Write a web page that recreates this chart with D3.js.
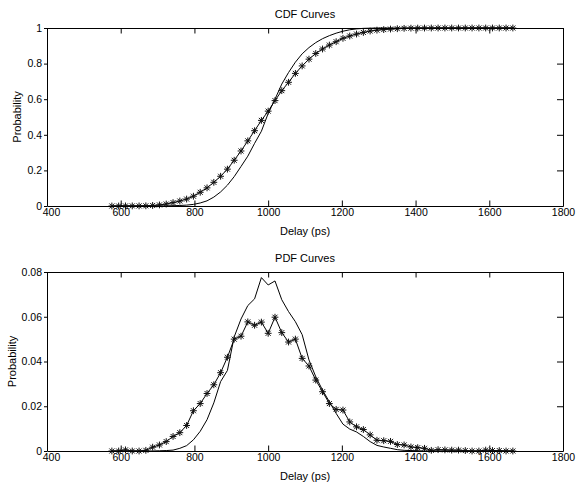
<!DOCTYPE html>
<html>
<head>
<meta charset="utf-8">
<script src="https://cdn.jsdelivr.net/npm/d3@7"></script>
<style>
body{margin:0;background:#fff}
svg{display:block}
text{font-family:"Liberation Sans",Arial,Helvetica,sans-serif;fill:#000}
</style>
</head>
<body>
<svg width="576" height="483"></svg>
<script>
// bin centres (ps)
const delay = [576.0,594.4,612.9,631.3,649.8,668.2,686.6,705.1,723.5,742.0,
  760.4,778.8,797.3,815.7,834.2,852.6,871.0,889.5,907.9,926.4,
  944.8,963.2,981.7,1000.1,1018.6,1037.0,1055.4,1073.9,1092.3,1110.8,
  1129.2,1147.6,1166.1,1184.5,1203.0,1221.4,1239.8,1258.3,1276.7,1295.2,
  1313.6,1332.0,1350.5,1368.9,1387.4,1405.8,1424.2,1442.7,1461.1,1479.6,
  1498.0,1516.4,1534.9,1553.3,1571.8,1590.2,1608.6,1627.1,1645.5,1664.0]

const cdfStar = [0,0,0.0005,0.0005,0.0005,0.001,0.003,0.006,0.011,0.019,
  0.028,0.039,0.055,0.077,0.102,0.133,0.167,0.207,0.257,0.309,
  0.366,0.423,0.481,0.533,0.592,0.648,0.695,0.745,0.787,0.825,
  0.857,0.882,0.904,0.923,0.942,0.955,0.966,0.975,0.983,0.988,
  0.991,0.994,0.996,0.998,0.999,0.9995,0.9997,0.9998,0.9999,1,
  1,1,1,1,1,1,1,1,1,1]

const cdfLine = [0,0,0,0,0,0,0,0.0003,0.0008,0.0015,
  0.003,0.005,0.009,0.017,0.029,0.05,0.079,0.117,0.165,0.222,
  0.28,0.352,0.42,0.52,0.60,0.685,0.75,0.808,0.855,0.89,
  0.918,0.94,0.957,0.971,0.982,0.99,0.995,0.998,0.999,1,
  1,1,1,1,1,1,1,1,1,1,
  1,1,1,1,1,1,1,1,1,1]

const pdfStar = [0,0,0.0005,0,0,0.0003,0.0017,0.0027,0.0042,0.0065,
  0.0082,0.0114,0.018,0.0212,0.0257,0.0296,0.035,0.0419,0.050,0.0513,
  0.0577,0.0562,0.0576,0.0526,0.0598,0.0529,0.0487,0.050,0.0414,0.038,
  0.0317,0.0265,0.0212,0.0186,0.0183,0.013,0.0108,0.0096,0.0072,0.0048,
  0.0046,0.0043,0.0029,0.0027,0.0018,0.0015,0.0012,0.0003,0.0006,0.0005,
  0.0004,0.0004,0.0002,0,0,0.0004,0.0002,0.0002,0,0]

const pdfLine = [0,0,0,0,0,0,0,0.0001,0.0002,0.0004,
  0.0012,0.0024,0.005,0.0088,0.014,0.0215,0.031,0.036,0.051,0.059,
  0.065,0.068,0.0775,0.0742,0.076,0.0676,0.0623,0.0578,0.052,0.0407,
  0.0332,0.0272,0.022,0.0168,0.012,0.0098,0.0085,0.0065,0.0042,0.0025,
  0.0018,0.0012,0.0006,0.0003,0.0002,0.0001,0,0,0,0,
  0,0,0,0,0,0,0,0,0,0]

const xTicks = [400,600,800,1000,1200,1400,1600,1800]
const cdfTicks = [0,0.2,0.4,0.6,0.8,1]
const pdfTicks = [0,0.02,0.04,0.06,0.08]

const svg = d3.select("svg")
const left = 47, right = 563
const xScale = d3.scaleLinear().domain([400,1800]).range([left,right])

// asterisk marker: plus + cross
const r = 3.4, d = 2.5
const star = "M" + (-r) + ",0H" + r + "M0," + (-r) + "V" + r +
  "M" + (-d) + "," + (-d) + "L" + d + "," + d + "M" + (-d) + "," + d + "L" + d + "," + (-d)

function drawPanel(top, bottom, yMax, yTicks, lineVals, starVals, title, ylabX){
  const yScale = d3.scaleLinear().domain([0,yMax]).range([bottom,top])
  const g = svg.append("g")

  const line = d3.line().x((v,i) => xScale(delay[i])).y(v => yScale(v))

  g.append("path")
  .attr("d", line(lineVals))
  .attr("fill","none").attr("stroke","#000").attr("stroke-width",1)

  g.append("path")
  .attr("d", line(starVals))
  .attr("fill","none").attr("stroke","#000").attr("stroke-width",1)

  g.selectAll(".star")
  .data(starVals)
  .join("path")
  .attr("class","star")
  .attr("transform",(v,i) => "translate(" + xScale(delay[i]) + "," + yScale(v) + ")")
  .attr("d", star)
  .attr("fill","none").attr("stroke","#111").attr("stroke-width",1)

  const axes = []
  const xb = g.append("g").attr("transform","translate(0," + bottom + ")")
  .call(d3.axisBottom(xScale).tickValues(xTicks).tickSizeInner(-5.5).tickSizeOuter(0)
    .tickPadding(3).tickFormat(d3.format("d")))
  // first label sits a little right of its tick
  xb.selectAll(".tick text").filter(v => v === 400).attr("dx", 4)
  axes.push(xb)
  axes.push(g.append("g").attr("transform","translate(0," + top + ")")
  .call(d3.axisTop(xScale).tickValues(xTicks).tickSizeInner(-5.5).tickSizeOuter(0).tickFormat("")))
  axes.push(g.append("g").attr("transform","translate(" + left + ",0)")
  .call(d3.axisLeft(yScale).tickValues(yTicks).tickSizeInner(3).tickSizeOuter(0).tickPadding(2).tickFormat(v => v)))
  axes.push(g.append("g").attr("transform","translate(" + right + ",0)")
  .call(d3.axisRight(yScale).tickValues(yTicks).tickSizeInner(-6).tickSizeOuter(0).tickFormat("")))

  axes.forEach(a => {
    a.attr("font-family",null).attr("font-size",null)
    a.selectAll("text").style("font-size","10.5px")
    a.selectAll("path,line").attr("stroke","#000")
  })

  const mid = (left + right) / 2
  g.append("text").attr("x",mid).attr("y",top - 10)
  .attr("text-anchor","middle").style("font-size","11px").text(title)

  g.append("text").attr("x",mid).attr("y",bottom + 28.5)
  .attr("text-anchor","middle").style("font-size","11px").text("Delay (ps)")

  g.append("text")
  .attr("transform","translate(" + ylabX + "," + ((top + bottom) / 2) + ") rotate(-90)")
  .attr("text-anchor","middle").style("font-size","11px").text("Probability")
}

drawPanel(28, 206, 1, cdfTicks, cdfLine, cdfStar, "CDF Curves", 21)
drawPanel(272, 451, 0.08, pdfTicks, pdfLine, pdfStar, "PDF Curves", 16)
</script>
</body>
</html>
